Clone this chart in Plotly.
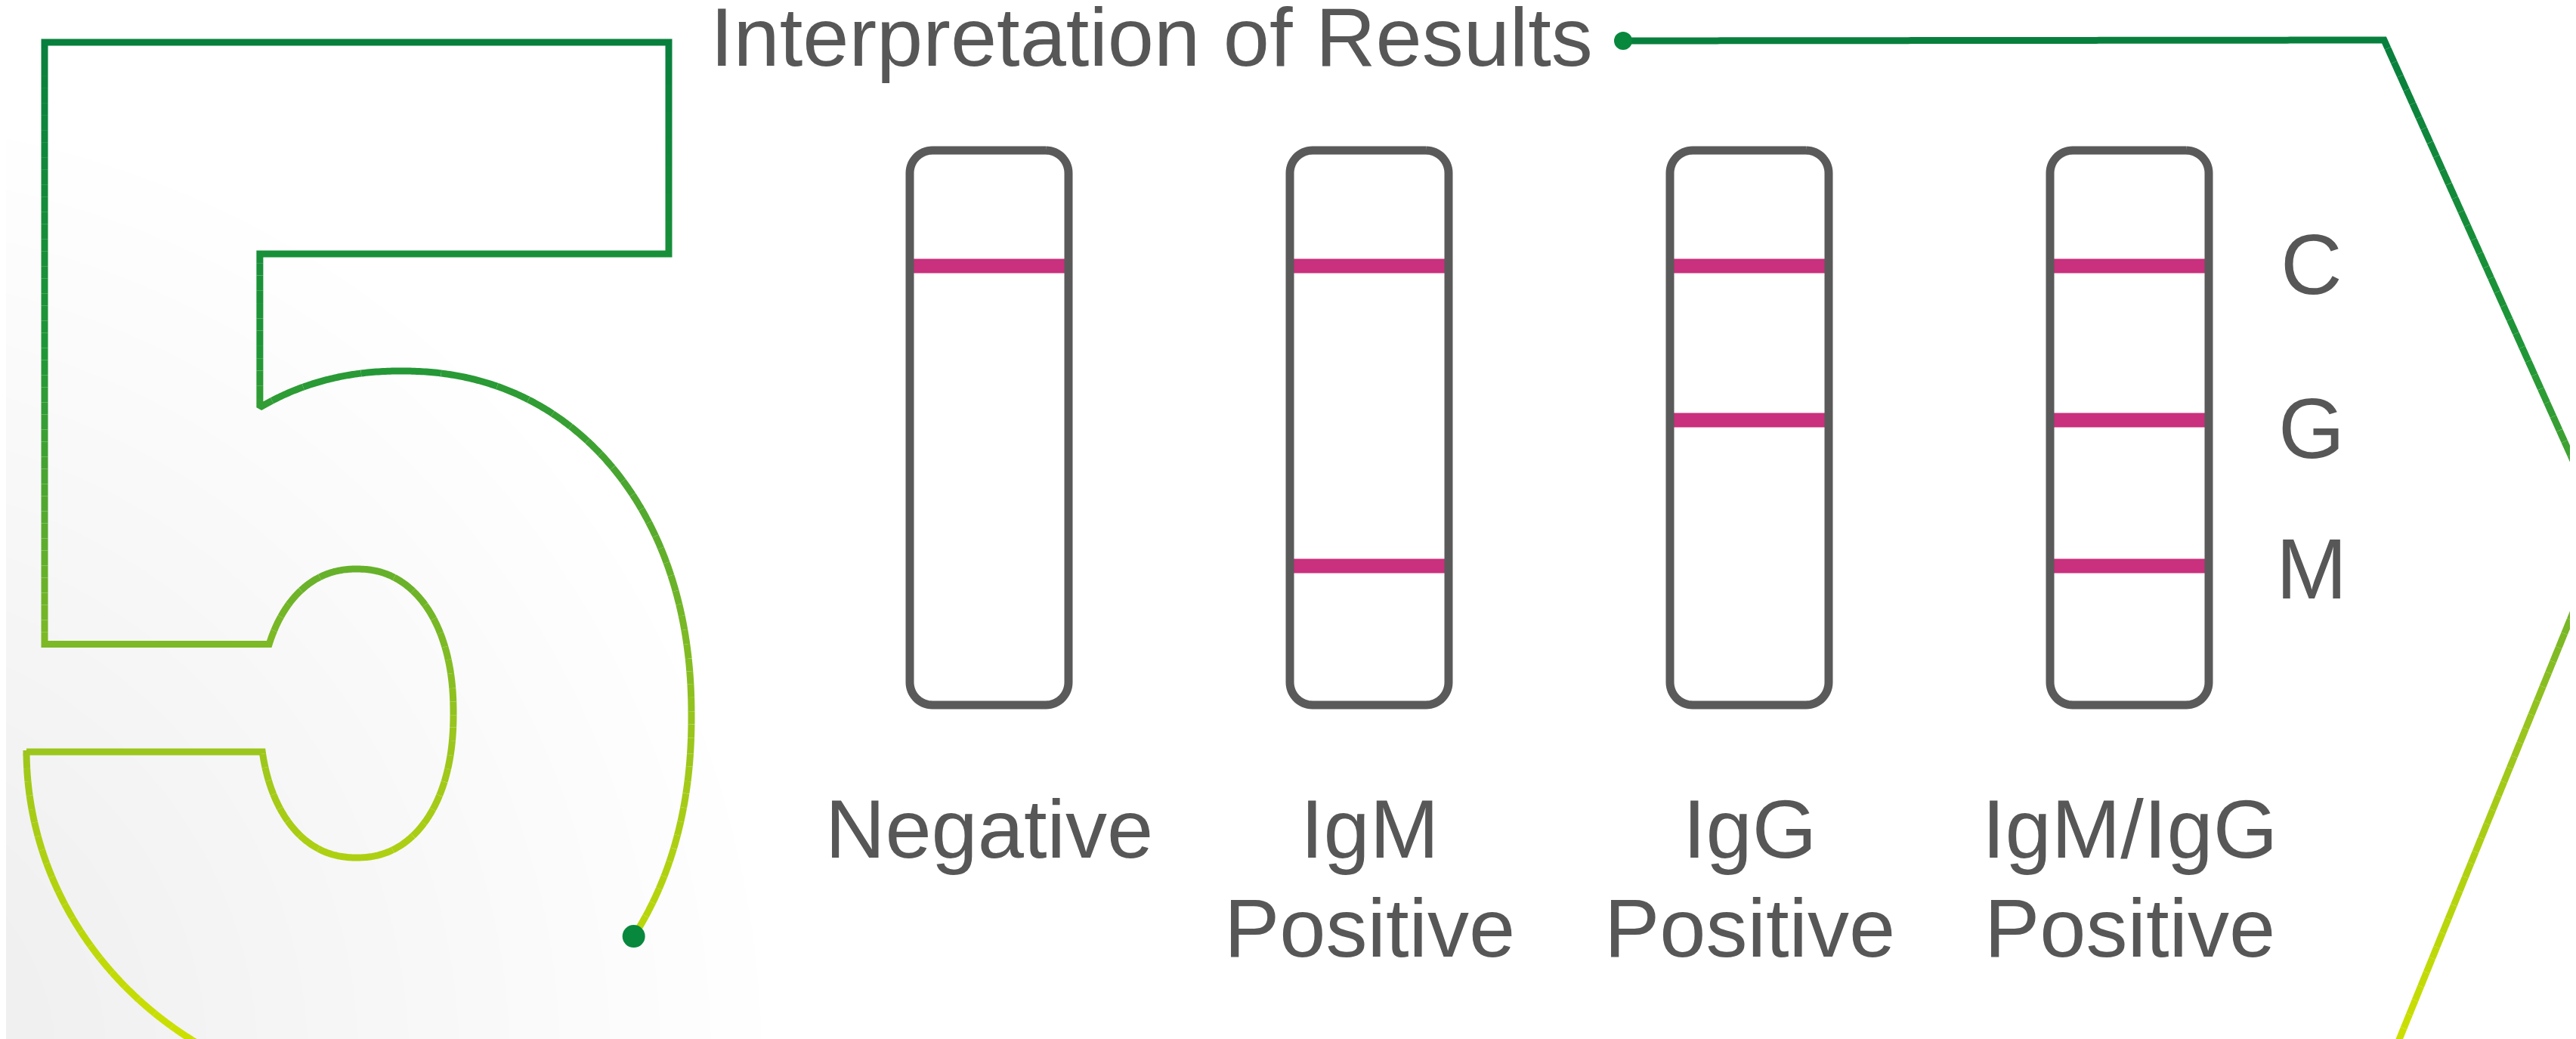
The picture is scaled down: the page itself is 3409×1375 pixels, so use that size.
import numpy as np
import plotly.graph_objects as go

W, H = 3409, 1375

# ---------------- data ----------------
title_text = "Interpretation of Results"
label_line1 = ["Negative", "IgM", "IgG", "IgM/IgG"]
label_line2 = ["", "Positive", "Positive", "Positive"]
band_names = ["C", "G", "M"]
band_C = [1, 1, 1, 1]
band_G = [0, 0, 1, 1]
band_M = [0, 1, 0, 1]
band_presence = {"C": band_C, "G": band_G, "M": band_M}

# ---------------- layout constants ----------------
STRIP_X0, STRIP_STEP, STRIP_W = 1301, 503, 210
STRIP_TOP, STRIP_BOT, STRIP_R = 191, 925, 30
BAND_Y = {"C": 344, "G": 548, "M": 741}
LETTER_Y = {"C": 342, "G": 559, "M": 745}
LETTER_X = 3051
GRAY = "#5a5a5a"
MAGENTA = "#c9307d"
TEXT = "#575757"
FONT = "Liberation Sans, Arial, Helvetica, sans-serif"

GRAD = [(0, (6, 125, 62)), (450, (30, 150, 55)), (700, (90, 172, 45)),
        (950, (152, 196, 30)), (1375, (205, 225, 0))]


def grad_color(y):
    ys = [g[0] for g in GRAD]
    cs = np.array([g[1] for g in GRAD], dtype=float)
    c = [np.interp(y, ys, cs[:, k]) for k in range(3)]
    return "rgb(%d,%d,%d)" % tuple(int(round(v)) for v in c)


def seg(p, q, step=4.0):
    p, q = np.array(p, float), np.array(q, float)
    n = max(2, int(np.hypot(*(q - p)) / step) + 1)
    t = np.linspace(0, 1, n)[:, None]
    return p + (q - p) * t


def polyline(pts):
    parts = [seg(pts[i], pts[i + 1]) for i in range(len(pts) - 1)]
    return np.vstack(parts)


def superellipse(cx, cy, rx, ry, n, t0, t1, num=400):
    t = np.radians(np.linspace(t0, t1, num))
    c, s = np.cos(t), np.sin(t)
    e = 2.0 / n
    x = cx + rx * np.sign(c) * np.abs(c) ** e
    y = cy + ry * np.sign(s) * np.abs(s) ** e
    return np.column_stack([x, y])


# ---------------- "5" outline geometry ----------------
big_bowl = superellipse(523, 940, 384, 457, 2.15, 398, 242.5)
small_loop = superellipse(464, 936, 128, 191, 2.2, 206.4, 526.5)
tail = superellipse(520, 985, 493, 461, 2.0, 180, 95)

bowl_start = tuple(big_bowl[-1])
loop_a, loop_b = tuple(small_loop[0]), tuple(small_loop[-1])
five_frame = [bowl_start, (bowl_start[0], 328), (877, 328), (877, 48), (51, 48),
              (51, loop_a[1]), loop_a]
five_base = [loop_b, (27, loop_b[1]), tuple(tail[0])]

five_path = np.vstack([big_bowl, polyline(five_frame), small_loop,
                       polyline(five_base), tail])
DOT5 = tuple(big_bowl[0])

# chevron / title connector
TITLE_DOT = (2140, 46)
chev = [TITLE_DOT, (3147, 45), (3440, 697), (3164, 1375), (3150, 1410)]
chev_path = polyline(chev)

fig = go.Figure()


def add_gradient_path(path, width, band_h=18):
    groups = {}
    bidx = np.floor(path[:, 1] / band_h).astype(int)
    start = 0
    for i in range(1, len(path) + 1):
        if i == len(path) or bidx[i] != bidx[start]:
            end = min(i, len(path) - 1)
            b = bidx[start]
            xs, ys = groups.setdefault(b, ([], []))
            xs.extend(list(path[start:end + 1, 0]) + [None])
            ys.extend(list(path[start:end + 1, 1]) + [None])
            start = i
    for b, (xs, ys) in sorted(groups.items()):
        fig.add_trace(go.Scatter(x=xs, y=ys, mode="lines", hoverinfo="skip", showlegend=False,
                                 line=dict(color=grad_color((b + 0.5) * band_h), width=width,
                                           simplify=False)))


# faint background tint bottom-left (many light layers -> smooth)
for r in np.linspace(250, 1250, 16):
    t = np.linspace(0, 2 * np.pi, 200)
    fig.add_trace(go.Scatter(x=-250 + r * np.cos(t), y=1400 + r * np.sin(t), mode="lines",
                             fill="toself", fillcolor="rgba(206,212,211,0.022)",
                             line=dict(width=0, simplify=False), hoverinfo="skip",
                             showlegend=False))

add_gradient_path(five_path, 9)
add_gradient_path(chev_path, 9)

# ---------------- strips ----------------
bx, by = [], []
for i in range(len(label_line1)):
    cx = STRIP_X0 + i * STRIP_STEP
    for b in band_names:
        if band_presence[b][i]:
            bx += [cx - STRIP_W / 2, cx + STRIP_W / 2, None]
            by += [BAND_Y[b], BAND_Y[b], None]
fig.add_trace(go.Scatter(x=bx, y=by, mode="lines", hoverinfo="skip", showlegend=False,
                         line=dict(color=MAGENTA, width=19)))


def rounded_rect(x0, y0, x1, y1, r, n=16):
    pts = []
    corners = [(x1 - r, y0 + r, -90, 0), (x1 - r, y1 - r, 0, 90),
               (x0 + r, y1 - r, 90, 180), (x0 + r, y0 + r, 180, 270)]
    for cx, cy, a0, a1 in corners:
        for a in np.linspace(np.radians(a0), np.radians(a1), n):
            pts.append((cx + r * np.cos(a), cy + r * np.sin(a)))
    pts.append(pts[0])
    return pts


sx, sy = [], []
for i in range(len(label_line1)):
    cx = STRIP_X0 + i * STRIP_STEP
    pts = rounded_rect(cx - STRIP_W / 2, STRIP_TOP, cx + STRIP_W / 2, STRIP_BOT, STRIP_R)
    sx += [p[0] for p in pts] + [None]
    sy += [p[1] for p in pts] + [None]
fig.add_trace(go.Scatter(x=sx, y=sy, mode="lines", hoverinfo="skip", showlegend=False,
                         line=dict(color=GRAY, width=11, simplify=False)))

# dots (on top)
fig.add_trace(go.Scatter(x=[DOT5[0], TITLE_DOT[0]], y=[DOT5[1], TITLE_DOT[1]],
                         mode="markers", hoverinfo="skip", showlegend=False, opacity=1,
                         marker=dict(size=[30, 24], color="#07883d", opacity=1,
                                     line=dict(width=0))))

# ---------------- text ----------------
ann = []
ann.append(dict(x=930, y=40, text=title_text, xanchor="left", yanchor="middle",
                showarrow=False, font=dict(family=FONT, size=110, color=TEXT)))
for i in range(len(label_line1)):
    cx = STRIP_X0 + i * STRIP_STEP
    ann.append(dict(x=cx, y=1088, text=label_line1[i], xanchor="center", yanchor="middle",
                    showarrow=False, font=dict(family=FONT, size=110, color=TEXT)))
    if label_line2[i]:
        ann.append(dict(x=cx, y=1219, text=label_line2[i], xanchor="center", yanchor="middle",
                        showarrow=False, font=dict(family=FONT, size=110, color=TEXT)))
for b in band_names:
    ann.append(dict(x=LETTER_X, y=LETTER_Y[b], text=b, xanchor="center", yanchor="middle",
                    showarrow=False, font=dict(family=FONT, size=113, color=TEXT)))

fig.update_layout(
    width=W, height=H, margin=dict(l=0, r=0, t=0, b=0),
    paper_bgcolor="white", plot_bgcolor="white",
    xaxis=dict(range=[0, W], visible=False, showgrid=False, zeroline=False, fixedrange=True),
    yaxis=dict(range=[H, 0], visible=False, showgrid=False, zeroline=False, fixedrange=True),
    annotations=ann, showlegend=False,
)

fig.write_html("out.html")
